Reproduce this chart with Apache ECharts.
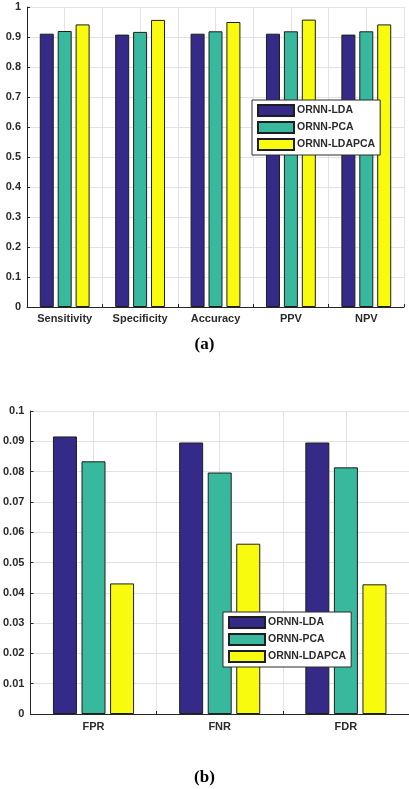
<!DOCTYPE html>
<html>
<head>
<meta charset="utf-8">
<script src="https://cdn.jsdelivr.net/npm/echarts@6/dist/echarts.min.js"></script>
<style>
  html, body { margin: 0; padding: 0; background: #fff; }
  #main { width: 409px; height: 789px; }
</style>
</head>
<body>
<div id="main"></div>
<script>
// chart (a)
const topCategories = ['Sensitivity', 'Specificity', 'Accuracy', 'PPV', 'NPV'];
const topLda = [0.911, 0.908, 0.911, 0.911, 0.908];
const topPca = [0.920, 0.917, 0.919, 0.919, 0.919];
const topLdaPca = [0.942, 0.957, 0.950, 0.958, 0.942];

// chart (b)
const bottomCategories = ['FPR', 'FNR', 'FDR'];
const bottomLda = [0.0916, 0.0896, 0.0896];
const bottomPca = [0.0834, 0.0797, 0.0814];
const bottomLdaPca = [0.0431, 0.0562, 0.0428];

const seriesNames = ['ORNN-LDA', 'ORNN-PCA', 'ORNN-LDAPCA'];
const colors = ['#352a87', '#38b89d', '#f9fb0e'];

const myChart = echarts.init(document.getElementById('main'));

const labelStyle = {
  color: '#2b2b2b',
  fontFamily: 'Liberation Sans',
  fontWeight: 'bold',
  fontSize: 11
};
const gridLine = { show: true, lineStyle: { color: '#e2e2e2', width: 1 } };
const axisLine = { show: true, lineStyle: { color: '#262626', width: 1 } };

function legendBox(left, top) {
  return {
    orient: 'vertical',
    left: left,
    top: top,
    padding: [4, 5],
    itemGap: 4,
    itemWidth: 36,
    itemHeight: 11,
    backgroundColor: '#fff',
    borderColor: '#2a2a2a',
    borderWidth: 1,
    borderRadius: 0,
    icon: 'rect',
    selectedMode: false,
    textStyle: Object.assign({}, labelStyle, { fontSize: 10.5, padding: [0, 0, 0, -2] }),
    data: seriesNames
  };
}

function bars(data, idx, gridIdx, width, gap) {
  return {
    name: seriesNames[idx],
    type: 'bar',
    xAxisIndex: gridIdx * 2,
    yAxisIndex: gridIdx,
    data: data,
    barWidth: width,
    barGap: gap,
    itemStyle: { color: colors[idx], borderColor: '#1e1e1e', borderWidth: 1 }
  };
}

const option = {
  animation: false,
  title: [
    { text: '(a)', left: 'center', top: 331,
      textStyle: { fontFamily: 'Liberation Serif', fontWeight: 'bold', fontSize: 17, color: '#000' } },
    { text: '(b)', left: 'center', top: 764,
      textStyle: { fontFamily: 'Liberation Serif', fontWeight: 'bold', fontSize: 17, color: '#000' } }
  ],
  legend: [legendBox(252, 100), legendBox(223, 612)],
  grid: [
    { left: 27, top: 7, width: 377, height: 300 },
    { left: 26, top: 411, width: 387, height: 303 }
  ],
  xAxis: [
    {
      type: 'category', gridIndex: 0, data: topCategories,
      axisLine: axisLine,
      axisTick: { show: true, inside: true, length: 3, lineStyle: { color: '#262626' } },
      axisLabel: Object.assign({ margin: 6 }, labelStyle),
      splitLine: { show: false }
    },
    {
      type: 'value', gridIndex: 0, min: 0, max: 10, interval: 1,
      axisLine: { show: false }, axisTick: { show: false }, axisLabel: { show: false },
      splitLine: gridLine
    },
    {
      type: 'category', gridIndex: 1, data: bottomCategories,
      axisLine: axisLine,
      axisTick: { show: true, inside: true, length: 3, lineStyle: { color: '#262626' } },
      axisLabel: Object.assign({ margin: 7 }, labelStyle),
      splitLine: { show: false }
    },
    {
      type: 'value', gridIndex: 1, min: 0, max: 6, interval: 1,
      axisLine: { show: false }, axisTick: { show: false }, axisLabel: { show: false },
      splitLine: gridLine
    }
  ],
  yAxis: [
    {
      type: 'value', gridIndex: 0, min: 0, max: 1, interval: 0.1,
      axisLine: axisLine,
      axisTick: { show: true, inside: true, length: 3, lineStyle: { color: '#262626' } },
      axisLabel: Object.assign({ margin: 6 }, labelStyle),
      splitLine: gridLine
    },
    {
      type: 'value', gridIndex: 1, min: 0, max: 0.1, interval: 0.01,
      axisLine: axisLine,
      axisTick: { show: true, inside: true, length: 3, lineStyle: { color: '#262626' } },
      axisLabel: Object.assign({ margin: 6 }, labelStyle),
      splitLine: gridLine
    }
  ],
  series: [
    bars(topLda, 0, 0, 14, '28%'),
    bars(topPca, 1, 0, 14, '28%'),
    bars(topLdaPca, 2, 0, 14, '28%'),
    bars(bottomLda, 0, 1, 24, '19%'),
    bars(bottomPca, 1, 1, 24, '19%'),
    bars(bottomLdaPca, 2, 1, 24, '19%')
  ]
};

myChart.setOption(option);
</script>
</body>
</html>
